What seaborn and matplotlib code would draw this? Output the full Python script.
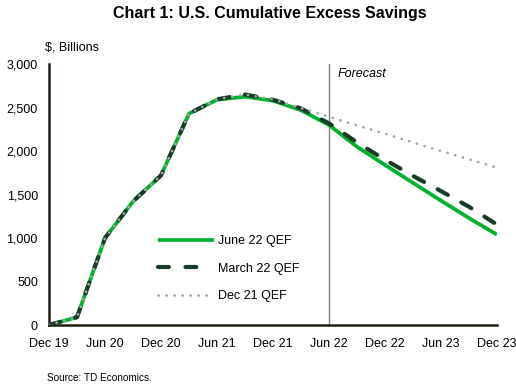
import pandas as pd
import matplotlib
matplotlib.use("Agg")
import matplotlib.pyplot as plt
import seaborn as sns

quarters = ["Dec 19", "Mar 20", "Jun 20", "Sep 20", "Dec 20", "Mar 21", "Jun 21", "Sep 21",
            "Dec 21", "Mar 22", "Jun 22", "Sep 22", "Dec 22", "Mar 23", "Jun 23", "Sep 23", "Dec 23"]
june22 = [0, 90, 1000, 1420, 1720, 2430, 2590, 2625, 2580, 2470, 2300, 2050, 1840, 1635, 1430, 1230, 1040]
march22 = [0, 90, 1000, 1420, 1720, 2430, 2595, 2650, 2590, 2490, 2318, 2100, 1900, 1715, 1540, 1360, 1155]
dec21 = [0, 90, 1000, 1420, 1720, 2430, 2595, 2650, 2595, 2495, 2394, 2295, 2200, 2100, 2000, 1905, 1810]
yticks = [0, 500, 1000, 1500, 2000, 2500, 3000]
forecast_start = "Jun 22"

df = pd.DataFrame({"q": range(len(quarters)), "june": june22, "march": march22, "dec": dec21})

sns.set_style("white")
plt.rcParams["font.family"] = ["Liberation Sans", "DejaVu Sans"]
plt.rcParams["text.color"] = "black"
plt.rcParams["xtick.color"] = "black"
plt.rcParams["ytick.color"] = "black"

fig = plt.figure(figsize=(5.16, 3.86), dpi=100)
ax = fig.add_axes([0.095, 0.158, 0.868, 0.676])

green = "#00B22D"
dark = "#173D26"
grey = "#A6A6A6"
fs = 9

fx = quarters.index(forecast_start)
ax.axvline(fx, color="#7F7F7F", lw=1.0, zorder=1)

sns.lineplot(data=df, x="q", y="june", ax=ax, color=green, lw=2.7,
             label="June 22 QEF", solid_capstyle="butt", zorder=2)
l2 = sns.lineplot(data=df, x="q", y="march", ax=ax, color=dark, lw=3.0,
                  label="March 22 QEF", zorder=3).lines[-1]
l2.set_linestyle((0, (2.8, 3.7)))
l2.set_dash_capstyle("round")
l3 = sns.lineplot(data=df, x="q", y="dec", ax=ax, color=grey, lw=2.0,
                  label="Dec 21 QEF", zorder=4).lines[-1]
l3.set_linestyle((0, (0.01, 2.87)))
l3.set_dash_capstyle("round")

ax.set_xlim(0, len(quarters) - 1)
ax.set_ylim(0, 3000)
ax.set_xticks(range(0, len(quarters), 2))
ax.set_xticklabels(quarters[::2], fontsize=fs)
ax.set_yticks(yticks)
ax.set_yticklabels([f"{v:,}" for v in yticks], fontsize=fs)
ax.tick_params(axis="x", length=0, pad=9)
ax.tick_params(axis="y", length=0, pad=8)
ax.set_xlabel("")
ax.set_ylabel("")
for s in ["top", "right"]:
    ax.spines[s].set_visible(False)
for s in ["left", "bottom"]:
    ax.spines[s].set_color("#1F1F0F")
    ax.spines[s].set_linewidth(1.8)

leg = ax.legend(loc="upper left", bbox_to_anchor=(0.232, 0.363), frameon=False,
                fontsize=fs, handlelength=4.5, labelspacing=1.24, handletextpad=0.3,
                borderaxespad=0)
hl = leg.get_lines()
hl[1].set_linestyle((0, (2.6, 4.0, 2.6, 12)))
for h in hl:
    h.set_dash_capstyle("round")

ax.text(fx + 0.3, 2960, "Forecast", fontsize=fs, style="italic", va="top", ha="left")

fig.text(0.523, 0.965, "Chart 1: U.S. Cumulative Excess Savings", fontsize=11.5,
         fontweight="bold", ha="center", va="center")
fig.text(0.087, 0.878, "$, Billions", fontsize=fs, ha="left", va="center")
fig.text(0.091, 0.022, "Source: TD Economics.", fontsize=7.2, ha="left", va="center")

fig.savefig("out.png", dpi=100)
